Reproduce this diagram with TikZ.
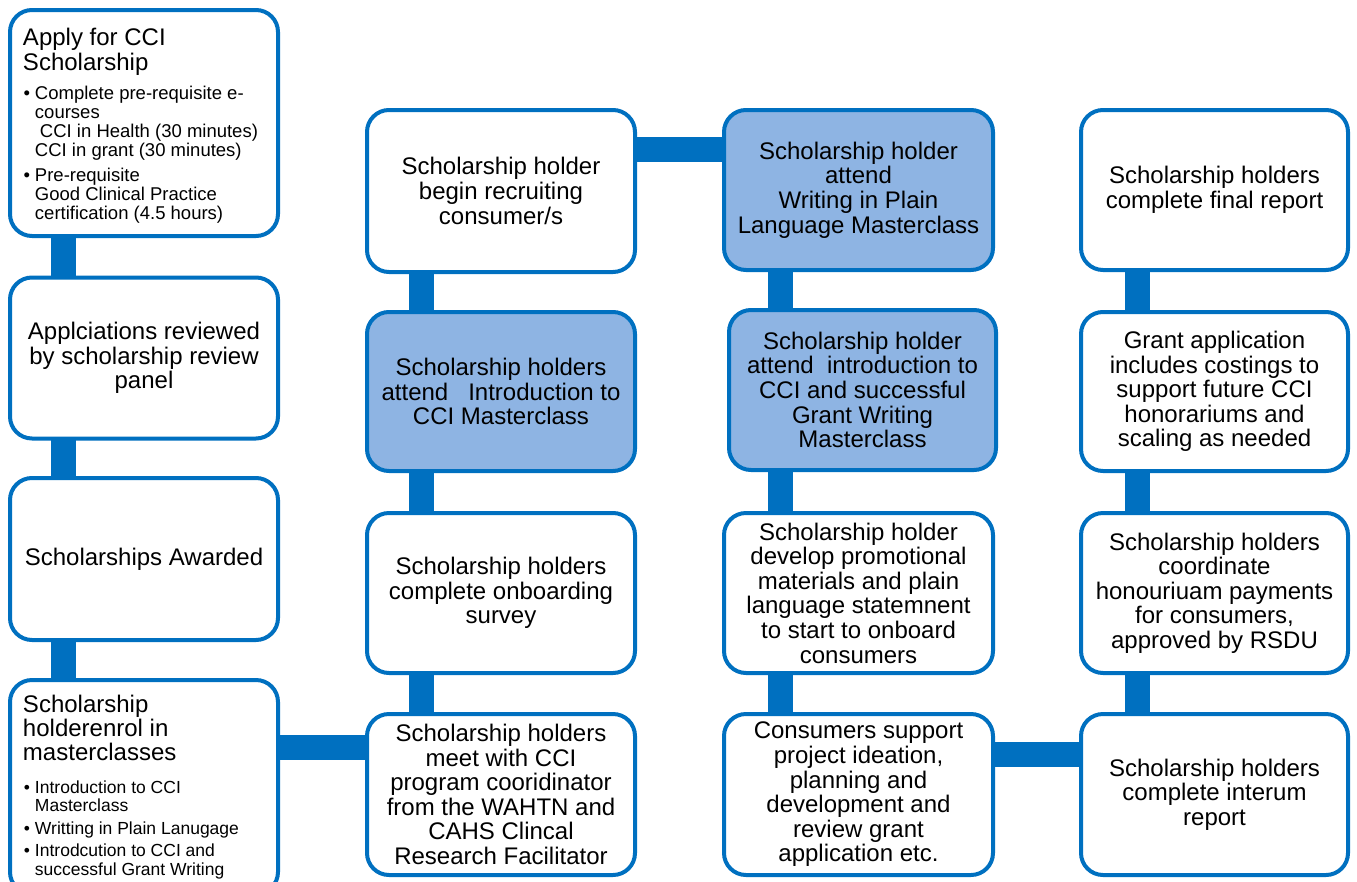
\documentclass[tikz,border=0pt]{standalone}
\usepackage{fontspec}
\setmainfont{Liberation Sans}
\usetikzlibrary{backgrounds}
\definecolor{bord}{HTML}{0070C0}
\definecolor{lblue}{HTML}{8EB4E3}
\newcommand{\bulmark}{\noindent\llap{\textbullet\hspace{5pt}}}
\tikzset{
  box/.style={draw=bord, line width=4pt, rounded corners=22pt, fill=white,
    inner sep=0pt, outer sep=0pt, align=center,
    font=\fontsize{24}{24.6}\selectfont},
  hl/.style={box, fill=lblue},
  conn/.style={draw=bord, line width=25pt},
}
\begin{document}
\begin{tikzpicture}[x=1pt,y=-1pt]
\path[use as bounding box] (0,0) rectangle (1357,881);
\clip (0,0) rectangle (1357,881);

% column 1
\node[box, minimum width=268pt, minimum height=226pt] (a1) at (144,123) {\parbox{242pt}{\raggedright
  \vspace*{6pt}
  \fontsize{24}{25}\selectfont Apply for CCI\\Scholarship\par
  \vspace{10pt}
  \fontsize{18.5}{19}\selectfont\leftskip=12pt
  \bulmark Complete pre-requisite e-\\courses\\\hspace*{5pt}CCI in Health (30 minutes)\\CCI in grant (30 minutes)\par
  \vspace{6pt}
  \bulmark Pre-requisite\\Good Clinical Practice\\certification (4.5 hours)\par}};
\node[box, minimum width=268pt, minimum height=161pt] (a2) at (144,358) {Applciations reviewed\\by scholarship review\\panel};
\node[box, minimum width=268pt, minimum height=162pt] (a3) at (144,559) {Scholarships Awarded};
\node[box, minimum width=268pt, minimum height=214pt] (a4) at (144,787) {\parbox{242pt}{\raggedright
  \fontsize{24}{24}\selectfont Scholarship\\holderenrol in\\masterclasses\par
  \vspace{14.5pt}
  \fontsize{17.5}{18.5}\selectfont\leftskip=12pt
  \bulmark Introduction to CCI\\Masterclass\par
  \vspace{4.5pt}
  \bulmark Writting in Plain Lanugage\par
  \vspace{3.5pt}
  \bulmark Introdcution to CCI and\\successful Grant Writing\par}};

% column 2
\node[box, minimum width=268pt, minimum height=162pt] (b1) at (501,191) {Scholarship holder\\begin recruiting\\consumer/s};
\node[hl, minimum width=268pt, minimum height=159pt] (b2) at (501,391.5) {Scholarship holders\\attend\ \ \ Introduction to\\CCI Masterclass};
\node[box, minimum width=268pt, minimum height=160pt] (b3) at (501,593) {Scholarship holders\\complete onboarding\\survey};
\node[box, minimum width=268pt, minimum height=161pt] (b4) at (501,794.5) {Scholarship holders\\meet with CCI\\program cooridinator\\from the WAHTN and\\CAHS Clincal\\Research Facilitator};

% column 3
\node[hl, minimum width=269pt, minimum height=160pt] (c1) at (858.5,190) {Scholarship holder\\attend\\Writing in Plain\\Language Masterclass};
\node[hl, minimum width=267pt, minimum height=160pt] (c2) at (862.5,390) {Scholarship holder\\attend\ \ introduction to\\CCI and successful\\Grant Writing\\Masterclass};
\node[box, minimum width=269pt, minimum height=160pt] (c3) at (858.5,593) {Scholarship holder\\develop promotional\\materials and plain\\language statemnent\\to start to onboard\\consumers};
\node[box, minimum width=269pt, minimum height=161pt] (c4) at (858.5,794.5) {Consumers support\\project ideation,\\planning and\\development and\\review grant\\application etc.};

% column 4
\node[box, minimum width=267pt, minimum height=160pt] (d1) at (1214.5,190) {Scholarship holders\\complete final report};
\node[box, minimum width=267pt, minimum height=159pt] (d2) at (1214.5,391.5) {Grant application\\includes costings to\\support future CCI\\honorariums and\\scaling as needed};
\node[box, minimum width=267pt, minimum height=160pt] (d3) at (1214.5,593) {Scholarship holders\\coordinate\\honouriuam payments\\for consumers,\\approved by RSDU};
\node[box, minimum width=267pt, minimum height=161pt] (d4) at (1214.5,794.5) {Scholarship holders\\complete interum\\report};

\coordinate (k1) at (63,0);
\coordinate (k2) at (421.5,0);
\coordinate (k3) at (780,0);
\coordinate (k4) at (1137,0);
\coordinate (h1) at (0,747.5);
\coordinate (h2) at (0,149.5);
\coordinate (h3) at (0,754.5);

\begin{scope}[on background layer]
  \fill[white] (0,0) rectangle (1357,881);
  \draw[conn] (a1.south -| k1) -- (a2.north -| k1);
  \draw[conn] (a2.south -| k1) -- (a3.north -| k1);
  \draw[conn] (a3.south -| k1) -- (a4.north -| k1);
  \draw[conn] (a4.east |- h1) -- (b4.west |- h1);
  \draw[conn] (b4.north -| k2) -- (b3.south -| k2);
  \draw[conn] (b3.north -| k2) -- (b2.south -| k2);
  \draw[conn] (b2.north -| k2) -- (b1.south -| k2);
  \draw[conn] (b1.east |- h2) -- (c1.west |- h2);
  \draw[conn] (c1.south -| k3) -- (c2.north -| k3);
  \draw[conn] (c2.south -| k3) -- (c3.north -| k3);
  \draw[conn] (c3.south -| k3) -- (c4.north -| k3);
  \draw[conn] (c4.east |- h3) -- (d4.west |- h3);
  \draw[conn] (d4.north -| k4) -- (d3.south -| k4);
  \draw[conn] (d3.north -| k4) -- (d2.south -| k4);
  \draw[conn] (d2.north -| k4) -- (d1.south -| k4);
\end{scope}
\end{tikzpicture}
\end{document}
